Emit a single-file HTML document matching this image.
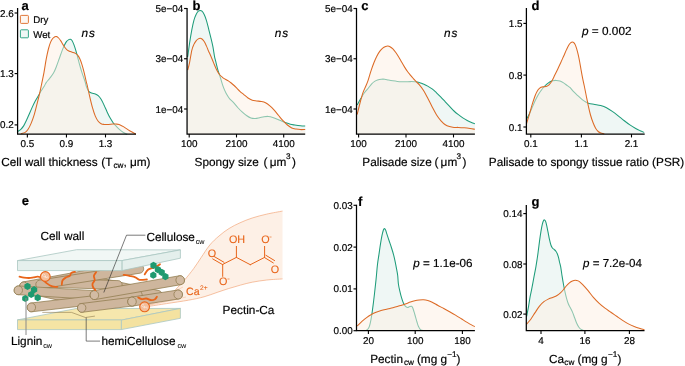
<!DOCTYPE html>
<html><head><meta charset="utf-8"><title>Figure</title>
<style>
html,body{margin:0;padding:0;background:#fff;}
body{width:685px;height:366px;overflow:hidden;}
svg{display:block;}
svg text{text-rendering:geometricPrecision;stroke:#000;stroke-width:0.18px;font-family:"Liberation Sans",Arial,Helvetica,sans-serif;fill:#000;}
</style></head><body>
<svg width="685" height="366" viewBox="0 0 685 366">
<rect width="685" height="366" fill="#fff"/>
<path d="M17.90,131.40C18.38,131.05 19.82,130.27 20.80,129.30C21.78,128.33 22.82,127.18 23.80,125.60C24.78,124.02 25.73,121.87 26.70,119.80C27.67,117.73 28.63,115.40 29.60,113.20C30.57,111.00 31.53,108.67 32.50,106.60C33.47,104.53 34.42,102.62 35.40,100.80C36.38,98.98 37.42,97.40 38.40,95.70C39.38,94.00 40.33,92.18 41.30,90.60C42.27,89.02 43.38,87.53 44.20,86.20C45.02,84.87 45.27,83.93 46.20,82.60C47.13,81.27 48.58,79.78 49.80,78.20C51.02,76.62 52.40,75.05 53.50,73.10C54.60,71.15 55.43,68.93 56.40,66.50C57.37,64.07 58.33,61.18 59.30,58.50C60.27,55.82 61.35,52.60 62.20,50.40C63.05,48.20 63.67,46.80 64.40,45.30C65.13,43.80 65.87,42.35 66.60,41.40C67.33,40.45 68.18,39.95 68.80,39.60C69.42,39.25 69.77,39.15 70.30,39.30C70.83,39.45 71.40,39.62 72.00,40.50C72.60,41.38 73.27,42.95 73.90,44.60C74.53,46.25 75.18,48.33 75.80,50.40C76.42,52.47 76.95,54.57 77.60,57.00C78.25,59.43 78.98,62.45 79.70,65.00C80.42,67.55 81.03,69.62 81.90,72.30C82.77,74.98 84.13,78.67 84.90,81.10C85.67,83.53 85.87,85.20 86.50,86.90C87.13,88.60 87.85,90.27 88.70,91.30C89.55,92.33 90.50,92.67 91.60,93.10C92.70,93.53 94.20,93.47 95.30,93.90C96.40,94.33 97.23,94.80 98.20,95.70C99.17,96.60 100.12,97.72 101.10,99.30C102.08,100.88 103.12,103.13 104.10,105.20C105.08,107.27 106.03,109.63 107.00,111.70C107.97,113.77 108.93,115.85 109.90,117.60C110.87,119.35 111.95,120.98 112.80,122.20C113.65,123.42 113.95,123.73 115.00,124.90C116.05,126.07 117.63,127.90 119.10,129.20C120.57,130.50 122.43,131.88 123.80,132.70C125.17,133.52 126.72,133.87 127.30,134.10L127.30,134.05 L17.90,134.05 Z" fill="rgba(224,240,235,0.5)" stroke="none"/><path d="M17.90,131.40C18.38,131.05 19.82,130.27 20.80,129.30C21.78,128.33 22.82,127.18 23.80,125.60C24.78,124.02 25.73,121.87 26.70,119.80C27.67,117.73 28.63,115.40 29.60,113.20C30.57,111.00 31.53,108.67 32.50,106.60C33.47,104.53 34.42,102.62 35.40,100.80C36.38,98.98 37.42,97.40 38.40,95.70C39.38,94.00 40.33,92.18 41.30,90.60C42.27,89.02 43.38,87.53 44.20,86.20C45.02,84.87 45.27,83.93 46.20,82.60C47.13,81.27 48.58,79.78 49.80,78.20C51.02,76.62 52.40,75.05 53.50,73.10C54.60,71.15 55.43,68.93 56.40,66.50C57.37,64.07 58.33,61.18 59.30,58.50C60.27,55.82 61.35,52.60 62.20,50.40C63.05,48.20 63.67,46.80 64.40,45.30C65.13,43.80 65.87,42.35 66.60,41.40C67.33,40.45 68.18,39.95 68.80,39.60C69.42,39.25 69.77,39.15 70.30,39.30C70.83,39.45 71.40,39.62 72.00,40.50C72.60,41.38 73.27,42.95 73.90,44.60C74.53,46.25 75.18,48.33 75.80,50.40C76.42,52.47 76.95,54.57 77.60,57.00C78.25,59.43 78.98,62.45 79.70,65.00C80.42,67.55 81.03,69.62 81.90,72.30C82.77,74.98 84.13,78.67 84.90,81.10C85.67,83.53 85.87,85.20 86.50,86.90C87.13,88.60 87.85,90.27 88.70,91.30C89.55,92.33 90.50,92.67 91.60,93.10C92.70,93.53 94.20,93.47 95.30,93.90C96.40,94.33 97.23,94.80 98.20,95.70C99.17,96.60 100.12,97.72 101.10,99.30C102.08,100.88 103.12,103.13 104.10,105.20C105.08,107.27 106.03,109.63 107.00,111.70C107.97,113.77 108.93,115.85 109.90,117.60C110.87,119.35 111.95,120.98 112.80,122.20C113.65,123.42 113.95,123.73 115.00,124.90C116.05,126.07 117.63,127.90 119.10,129.20C120.57,130.50 122.43,131.88 123.80,132.70C125.17,133.52 126.72,133.87 127.30,134.10" fill="none" stroke="#1E9C7A" stroke-width="1.05" stroke-linejoin="round"/>
<path d="M20.80,133.80C21.53,133.57 23.98,133.15 25.20,132.40C26.42,131.65 27.12,130.80 28.10,129.30C29.08,127.80 30.12,125.72 31.10,123.40C32.08,121.08 33.03,118.57 34.00,115.40C34.97,112.23 36.05,107.68 36.90,104.40C37.75,101.12 38.37,98.85 39.10,95.70C39.83,92.55 40.48,89.40 41.30,85.50C42.12,81.60 43.18,76.68 44.00,72.30C44.82,67.92 45.47,63.08 46.20,59.20C46.93,55.32 47.68,51.80 48.40,49.00C49.12,46.20 49.78,44.15 50.50,42.40C51.22,40.65 51.97,39.45 52.70,38.50C53.43,37.55 54.28,37.03 54.90,36.70C55.52,36.37 55.78,36.28 56.40,36.50C57.02,36.72 57.87,37.27 58.60,38.00C59.33,38.73 60.07,39.80 60.80,40.90C61.53,42.00 62.28,43.45 63.00,44.60C63.72,45.75 64.38,46.88 65.10,47.80C65.82,48.72 66.43,49.47 67.30,50.10C68.17,50.73 69.32,51.18 70.30,51.60C71.28,52.02 72.35,52.30 73.20,52.60C74.05,52.90 74.67,52.98 75.40,53.40C76.13,53.82 76.88,54.25 77.60,55.10C78.32,55.95 78.98,56.97 79.70,58.50C80.42,60.03 81.17,62.00 81.90,64.30C82.63,66.60 83.37,69.38 84.10,72.30C84.83,75.22 85.77,79.60 86.30,81.80C86.83,84.00 86.77,83.18 87.30,85.50C87.83,87.82 88.65,92.05 89.50,95.70C90.35,99.35 91.43,104.00 92.40,107.40C93.37,110.80 94.33,113.80 95.30,116.10C96.27,118.40 97.23,119.93 98.20,121.20C99.17,122.47 100.12,123.17 101.10,123.70C102.08,124.23 102.88,124.28 104.10,124.40C105.32,124.52 106.95,124.45 108.40,124.40C109.85,124.35 111.53,124.15 112.80,124.10C114.07,124.05 114.95,124.03 116.00,124.10C117.05,124.17 117.80,124.03 119.10,124.50C120.40,124.97 122.05,125.85 123.80,126.90C125.55,127.95 127.60,129.62 129.60,130.80C131.60,131.98 134.77,133.47 135.80,134.00L135.80,134.05 L20.80,134.05 Z" fill="rgba(253,239,227,0.5)" stroke="none"/><path d="M20.80,133.80C21.53,133.57 23.98,133.15 25.20,132.40C26.42,131.65 27.12,130.80 28.10,129.30C29.08,127.80 30.12,125.72 31.10,123.40C32.08,121.08 33.03,118.57 34.00,115.40C34.97,112.23 36.05,107.68 36.90,104.40C37.75,101.12 38.37,98.85 39.10,95.70C39.83,92.55 40.48,89.40 41.30,85.50C42.12,81.60 43.18,76.68 44.00,72.30C44.82,67.92 45.47,63.08 46.20,59.20C46.93,55.32 47.68,51.80 48.40,49.00C49.12,46.20 49.78,44.15 50.50,42.40C51.22,40.65 51.97,39.45 52.70,38.50C53.43,37.55 54.28,37.03 54.90,36.70C55.52,36.37 55.78,36.28 56.40,36.50C57.02,36.72 57.87,37.27 58.60,38.00C59.33,38.73 60.07,39.80 60.80,40.90C61.53,42.00 62.28,43.45 63.00,44.60C63.72,45.75 64.38,46.88 65.10,47.80C65.82,48.72 66.43,49.47 67.30,50.10C68.17,50.73 69.32,51.18 70.30,51.60C71.28,52.02 72.35,52.30 73.20,52.60C74.05,52.90 74.67,52.98 75.40,53.40C76.13,53.82 76.88,54.25 77.60,55.10C78.32,55.95 78.98,56.97 79.70,58.50C80.42,60.03 81.17,62.00 81.90,64.30C82.63,66.60 83.37,69.38 84.10,72.30C84.83,75.22 85.77,79.60 86.30,81.80C86.83,84.00 86.77,83.18 87.30,85.50C87.83,87.82 88.65,92.05 89.50,95.70C90.35,99.35 91.43,104.00 92.40,107.40C93.37,110.80 94.33,113.80 95.30,116.10C96.27,118.40 97.23,119.93 98.20,121.20C99.17,122.47 100.12,123.17 101.10,123.70C102.08,124.23 102.88,124.28 104.10,124.40C105.32,124.52 106.95,124.45 108.40,124.40C109.85,124.35 111.53,124.15 112.80,124.10C114.07,124.05 114.95,124.03 116.00,124.10C117.05,124.17 117.80,124.03 119.10,124.50C120.40,124.97 122.05,125.85 123.80,126.90C125.55,127.95 127.60,129.62 129.60,130.80C131.60,131.98 134.77,133.47 135.80,134.00" fill="none" stroke="#DC6A25" stroke-width="1.05" stroke-linejoin="round"/>
<path d="M17.60,8.00 V134.05 H136.00" fill="none" stroke="#000" stroke-width="1.25" stroke-linejoin="miter"/><path d="M27.35,134.05 v3.4" stroke="#000" stroke-width="1.1" fill="none"/><text x="27.35" y="146.70" text-anchor="middle" font-size="9.9">0.5</text><path d="M66.45,134.05 v3.4" stroke="#000" stroke-width="1.1" fill="none"/><text x="66.45" y="146.70" text-anchor="middle" font-size="9.9">0.9</text><path d="M105.50,134.05 v3.4" stroke="#000" stroke-width="1.1" fill="none"/><text x="105.50" y="146.70" text-anchor="middle" font-size="9.9">1.3</text><path d="M17.60,13.00 h-3.0" stroke="#000" stroke-width="1.15" fill="none"/><text x="13.80" y="16.55" text-anchor="end" font-size="9.9">2.6</text><path d="M17.60,73.60 h-3.0" stroke="#000" stroke-width="1.15" fill="none"/><text x="13.80" y="77.15" text-anchor="end" font-size="9.9">1.3</text><path d="M17.60,124.90 h-3.0" stroke="#000" stroke-width="1.15" fill="none"/><text x="13.80" y="128.45" text-anchor="end" font-size="9.9">0.2</text>
<text x="21.6" y="9.5" font-size="13" font-weight="bold">a</text>
<rect x="20.4" y="15.4" width="8" height="8" rx="0.8" fill="rgba(253,239,227,0.5)" stroke="#DC6A25" stroke-width="0.9"/>
<rect x="20.4" y="29.8" width="8" height="8" rx="0.8" fill="rgba(224,240,235,0.5)" stroke="#1E9C7A" stroke-width="0.9"/>
<text x="33.2" y="22.6" font-size="9.7">Dry</text>
<text x="33.2" y="37.5" font-size="9.7">Wet</text>
<text x="81.5" y="36.8" font-size="11.8" font-style="italic" letter-spacing="1">ns</text>
<text x="1.20" y="165.90" font-size="11.8">Cell wall thickness</text><text x="101.30" y="165.90" font-size="11.8">(T</text><text x="113.50" y="167.90" font-size="8.2">cw</text><text x="123.40" y="165.90" font-size="11.8">, μm)</text>
<path d="M187.50,57.00C187.58,56.60 187.65,56.93 188.00,54.60C188.35,52.27 188.97,47.13 189.60,43.00C190.23,38.87 191.08,33.58 191.80,29.80C192.52,26.02 193.18,22.85 193.90,20.30C194.62,17.75 195.37,16.03 196.10,14.50C196.83,12.97 197.62,11.78 198.30,11.10C198.98,10.42 199.58,10.40 200.20,10.40C200.82,10.40 201.33,10.42 202.00,11.10C202.67,11.78 203.47,12.97 204.20,14.50C204.93,16.03 205.68,17.98 206.40,20.30C207.12,22.62 207.78,25.60 208.50,28.40C209.22,31.20 209.97,34.07 210.70,37.10C211.43,40.13 212.28,43.48 212.90,46.60C213.52,49.72 213.92,53.28 214.40,55.80C214.88,58.32 215.20,59.27 215.80,61.70C216.40,64.13 217.27,67.85 218.00,70.40C218.73,72.95 219.47,74.68 220.20,77.00C220.93,79.32 221.67,82.12 222.40,84.30C223.13,86.48 223.87,88.40 224.60,90.10C225.33,91.80 225.95,93.03 226.80,94.50C227.65,95.97 228.60,97.58 229.70,98.90C230.80,100.22 232.07,100.97 233.40,102.40C234.73,103.83 236.25,105.92 237.70,107.50C239.15,109.08 240.63,110.57 242.10,111.90C243.57,113.23 245.03,114.48 246.50,115.50C247.97,116.52 249.43,117.50 250.90,118.00C252.37,118.50 253.85,118.55 255.30,118.50C256.75,118.45 258.15,118.00 259.60,117.70C261.05,117.40 262.53,116.92 264.00,116.70C265.47,116.48 266.93,116.28 268.40,116.40C269.87,116.52 271.33,116.93 272.80,117.40C274.27,117.87 275.75,118.58 277.20,119.20C278.65,119.82 280.05,120.50 281.50,121.10C282.95,121.70 284.43,122.28 285.90,122.80C287.37,123.32 288.83,123.83 290.30,124.20C291.77,124.57 293.00,124.73 294.70,125.00C296.40,125.27 298.75,125.62 300.50,125.80C302.25,125.98 304.42,126.05 305.20,126.10L305.20,134.05 L187.50,134.05 Z" fill="rgba(224,240,235,0.5)" stroke="none"/><path d="M187.50,57.00C187.58,56.60 187.65,56.93 188.00,54.60C188.35,52.27 188.97,47.13 189.60,43.00C190.23,38.87 191.08,33.58 191.80,29.80C192.52,26.02 193.18,22.85 193.90,20.30C194.62,17.75 195.37,16.03 196.10,14.50C196.83,12.97 197.62,11.78 198.30,11.10C198.98,10.42 199.58,10.40 200.20,10.40C200.82,10.40 201.33,10.42 202.00,11.10C202.67,11.78 203.47,12.97 204.20,14.50C204.93,16.03 205.68,17.98 206.40,20.30C207.12,22.62 207.78,25.60 208.50,28.40C209.22,31.20 209.97,34.07 210.70,37.10C211.43,40.13 212.28,43.48 212.90,46.60C213.52,49.72 213.92,53.28 214.40,55.80C214.88,58.32 215.20,59.27 215.80,61.70C216.40,64.13 217.27,67.85 218.00,70.40C218.73,72.95 219.47,74.68 220.20,77.00C220.93,79.32 221.67,82.12 222.40,84.30C223.13,86.48 223.87,88.40 224.60,90.10C225.33,91.80 225.95,93.03 226.80,94.50C227.65,95.97 228.60,97.58 229.70,98.90C230.80,100.22 232.07,100.97 233.40,102.40C234.73,103.83 236.25,105.92 237.70,107.50C239.15,109.08 240.63,110.57 242.10,111.90C243.57,113.23 245.03,114.48 246.50,115.50C247.97,116.52 249.43,117.50 250.90,118.00C252.37,118.50 253.85,118.55 255.30,118.50C256.75,118.45 258.15,118.00 259.60,117.70C261.05,117.40 262.53,116.92 264.00,116.70C265.47,116.48 266.93,116.28 268.40,116.40C269.87,116.52 271.33,116.93 272.80,117.40C274.27,117.87 275.75,118.58 277.20,119.20C278.65,119.82 280.05,120.50 281.50,121.10C282.95,121.70 284.43,122.28 285.90,122.80C287.37,123.32 288.83,123.83 290.30,124.20C291.77,124.57 293.00,124.73 294.70,125.00C296.40,125.27 298.75,125.62 300.50,125.80C302.25,125.98 304.42,126.05 305.20,126.10" fill="none" stroke="#1E9C7A" stroke-width="1.05" stroke-linejoin="round"/>
<path d="M187.50,70.00C187.58,69.83 187.65,70.27 188.00,69.00C188.35,67.73 188.97,65.52 189.60,62.40C190.23,59.28 191.08,53.30 191.80,50.30C192.52,47.30 193.18,45.98 193.90,44.40C194.62,42.82 195.37,41.72 196.10,40.80C196.83,39.88 197.63,39.32 198.30,38.90C198.97,38.48 199.48,38.28 200.10,38.30C200.72,38.32 201.32,38.47 202.00,39.00C202.68,39.53 203.47,40.35 204.20,41.50C204.93,42.65 205.68,44.32 206.40,45.90C207.12,47.48 207.78,49.35 208.50,51.00C209.22,52.65 209.83,53.78 210.70,55.80C211.57,57.82 212.72,60.78 213.70,63.10C214.68,65.42 215.63,67.80 216.60,69.70C217.57,71.60 218.53,73.23 219.50,74.50C220.47,75.77 221.43,76.52 222.40,77.30C223.37,78.08 224.32,78.60 225.30,79.20C226.28,79.80 227.32,80.27 228.30,80.90C229.28,81.53 230.23,82.23 231.20,83.00C232.17,83.77 233.13,84.60 234.10,85.50C235.07,86.40 236.03,87.43 237.00,88.40C237.97,89.37 238.80,90.30 239.90,91.30C241.00,92.30 242.25,93.28 243.60,94.40C244.95,95.52 246.55,97.03 248.00,98.00C249.45,98.97 250.85,99.72 252.30,100.20C253.75,100.68 255.23,100.68 256.70,100.90C258.17,101.12 259.63,101.18 261.10,101.50C262.57,101.82 264.03,102.08 265.50,102.80C266.97,103.52 268.45,104.58 269.90,105.80C271.35,107.02 272.75,108.48 274.20,110.10C275.65,111.72 277.13,113.73 278.60,115.50C280.07,117.27 281.53,119.12 283.00,120.70C284.47,122.28 285.93,123.78 287.40,125.00C288.87,126.22 290.35,127.32 291.80,128.00C293.25,128.68 294.65,128.83 296.10,129.10C297.55,129.37 298.98,129.55 300.50,129.60C302.02,129.65 304.42,129.43 305.20,129.40L305.20,134.05 L187.50,134.05 Z" fill="rgba(253,239,227,0.5)" stroke="none"/><path d="M187.50,70.00C187.58,69.83 187.65,70.27 188.00,69.00C188.35,67.73 188.97,65.52 189.60,62.40C190.23,59.28 191.08,53.30 191.80,50.30C192.52,47.30 193.18,45.98 193.90,44.40C194.62,42.82 195.37,41.72 196.10,40.80C196.83,39.88 197.63,39.32 198.30,38.90C198.97,38.48 199.48,38.28 200.10,38.30C200.72,38.32 201.32,38.47 202.00,39.00C202.68,39.53 203.47,40.35 204.20,41.50C204.93,42.65 205.68,44.32 206.40,45.90C207.12,47.48 207.78,49.35 208.50,51.00C209.22,52.65 209.83,53.78 210.70,55.80C211.57,57.82 212.72,60.78 213.70,63.10C214.68,65.42 215.63,67.80 216.60,69.70C217.57,71.60 218.53,73.23 219.50,74.50C220.47,75.77 221.43,76.52 222.40,77.30C223.37,78.08 224.32,78.60 225.30,79.20C226.28,79.80 227.32,80.27 228.30,80.90C229.28,81.53 230.23,82.23 231.20,83.00C232.17,83.77 233.13,84.60 234.10,85.50C235.07,86.40 236.03,87.43 237.00,88.40C237.97,89.37 238.80,90.30 239.90,91.30C241.00,92.30 242.25,93.28 243.60,94.40C244.95,95.52 246.55,97.03 248.00,98.00C249.45,98.97 250.85,99.72 252.30,100.20C253.75,100.68 255.23,100.68 256.70,100.90C258.17,101.12 259.63,101.18 261.10,101.50C262.57,101.82 264.03,102.08 265.50,102.80C266.97,103.52 268.45,104.58 269.90,105.80C271.35,107.02 272.75,108.48 274.20,110.10C275.65,111.72 277.13,113.73 278.60,115.50C280.07,117.27 281.53,119.12 283.00,120.70C284.47,122.28 285.93,123.78 287.40,125.00C288.87,126.22 290.35,127.32 291.80,128.00C293.25,128.68 294.65,128.83 296.10,129.10C297.55,129.37 298.98,129.55 300.50,129.60C302.02,129.65 304.42,129.43 305.20,129.40" fill="none" stroke="#DC6A25" stroke-width="1.05" stroke-linejoin="round"/>
<path d="M187.06,7.90 V134.05 H305.20" fill="none" stroke="#000" stroke-width="1.25" stroke-linejoin="miter"/><path d="M189.20,134.05 v3.4" stroke="#000" stroke-width="1.1" fill="none"/><text x="189.20" y="146.70" text-anchor="middle" font-size="9.9">100</text><path d="M236.50,134.05 v3.4" stroke="#000" stroke-width="1.1" fill="none"/><text x="236.50" y="146.70" text-anchor="middle" font-size="9.9">2100</text><path d="M283.70,134.05 v3.4" stroke="#000" stroke-width="1.1" fill="none"/><text x="283.70" y="146.70" text-anchor="middle" font-size="9.9">4100</text><path d="M187.06,8.50 h-3.0" stroke="#000" stroke-width="1.15" fill="none"/><text x="183.26" y="12.05" text-anchor="end" font-size="9.9">5e−04</text><path d="M187.06,58.75 h-3.0" stroke="#000" stroke-width="1.15" fill="none"/><text x="183.26" y="62.30" text-anchor="end" font-size="9.9">3e−04</text><path d="M187.06,109.00 h-3.0" stroke="#000" stroke-width="1.15" fill="none"/><text x="183.26" y="112.55" text-anchor="end" font-size="9.9">1e−04</text>
<text x="192.4" y="9.5" font-size="13" font-weight="bold">b</text>
<text x="274.7" y="36.8" font-size="11.8" font-style="italic" letter-spacing="1">ns</text>
<text x="194.60" y="165.90" font-size="11.8">Spongy size</text><text x="263.40" y="165.90" font-size="11.8">(</text><text x="269.80" y="165.90" font-size="11.8">μm</text><text x="286.00" y="158.80" font-size="8.2">3</text><text x="292.00" y="165.90" font-size="11.8">)</text>
<path d="M357.20,105.00C357.25,104.90 356.90,105.47 357.50,104.40C358.10,103.33 359.65,100.53 360.80,98.60C361.95,96.67 363.13,94.57 364.40,92.80C365.67,91.03 367.18,89.48 368.40,88.00C369.62,86.52 370.67,85.00 371.70,83.90C372.73,82.80 373.63,82.05 374.60,81.40C375.57,80.75 376.40,80.37 377.50,80.00C378.60,79.63 379.98,79.33 381.20,79.20C382.42,79.07 383.58,79.07 384.80,79.20C386.02,79.33 387.15,79.73 388.50,80.00C389.85,80.27 391.43,80.57 392.90,80.80C394.37,81.03 395.85,81.25 397.30,81.40C398.75,81.55 400.15,81.65 401.60,81.70C403.05,81.75 404.53,81.72 406.00,81.70C407.47,81.68 408.93,81.60 410.40,81.60C411.87,81.60 413.33,81.57 414.80,81.70C416.27,81.83 417.83,82.03 419.20,82.40C420.57,82.77 421.58,83.28 423.00,83.90C424.42,84.52 426.18,85.27 427.70,86.10C429.22,86.93 430.63,87.78 432.10,88.90C433.57,90.02 435.03,91.43 436.50,92.80C437.97,94.17 439.43,95.60 440.90,97.10C442.37,98.60 443.85,100.27 445.30,101.80C446.75,103.33 448.15,104.77 449.60,106.30C451.05,107.83 452.53,109.60 454.00,111.00C455.47,112.40 456.93,113.55 458.40,114.70C459.87,115.85 461.33,116.93 462.80,117.90C464.27,118.87 465.75,119.73 467.20,120.50C468.65,121.27 470.22,121.97 471.50,122.50C472.78,123.03 474.33,123.50 474.90,123.70L474.90,134.05 L357.20,134.05 Z" fill="rgba(224,240,235,0.5)" stroke="none"/><path d="M357.20,105.00C357.25,104.90 356.90,105.47 357.50,104.40C358.10,103.33 359.65,100.53 360.80,98.60C361.95,96.67 363.13,94.57 364.40,92.80C365.67,91.03 367.18,89.48 368.40,88.00C369.62,86.52 370.67,85.00 371.70,83.90C372.73,82.80 373.63,82.05 374.60,81.40C375.57,80.75 376.40,80.37 377.50,80.00C378.60,79.63 379.98,79.33 381.20,79.20C382.42,79.07 383.58,79.07 384.80,79.20C386.02,79.33 387.15,79.73 388.50,80.00C389.85,80.27 391.43,80.57 392.90,80.80C394.37,81.03 395.85,81.25 397.30,81.40C398.75,81.55 400.15,81.65 401.60,81.70C403.05,81.75 404.53,81.72 406.00,81.70C407.47,81.68 408.93,81.60 410.40,81.60C411.87,81.60 413.33,81.57 414.80,81.70C416.27,81.83 417.83,82.03 419.20,82.40C420.57,82.77 421.58,83.28 423.00,83.90C424.42,84.52 426.18,85.27 427.70,86.10C429.22,86.93 430.63,87.78 432.10,88.90C433.57,90.02 435.03,91.43 436.50,92.80C437.97,94.17 439.43,95.60 440.90,97.10C442.37,98.60 443.85,100.27 445.30,101.80C446.75,103.33 448.15,104.77 449.60,106.30C451.05,107.83 452.53,109.60 454.00,111.00C455.47,112.40 456.93,113.55 458.40,114.70C459.87,115.85 461.33,116.93 462.80,117.90C464.27,118.87 465.75,119.73 467.20,120.50C468.65,121.27 470.22,121.97 471.50,122.50C472.78,123.03 474.33,123.50 474.90,123.70" fill="none" stroke="#1E9C7A" stroke-width="1.05" stroke-linejoin="round"/>
<path d="M357.20,114.50C357.25,114.28 357.03,115.12 357.50,113.20C357.97,111.28 359.10,106.40 360.00,103.00C360.90,99.60 361.98,95.50 362.90,92.80C363.82,90.10 364.63,88.88 365.50,86.80C366.37,84.72 367.18,82.97 368.10,80.30C369.02,77.63 370.03,73.73 371.00,70.80C371.97,67.87 372.93,65.13 373.90,62.70C374.87,60.27 375.83,58.08 376.80,56.20C377.77,54.32 378.72,52.75 379.70,51.40C380.68,50.05 381.72,48.92 382.70,48.10C383.68,47.28 384.75,46.83 385.60,46.50C386.45,46.17 387.07,46.07 387.80,46.10C388.53,46.13 389.15,46.23 390.00,46.70C390.85,47.17 391.93,47.93 392.90,48.90C393.87,49.87 394.83,51.17 395.80,52.50C396.77,53.83 397.73,55.32 398.70,56.90C399.67,58.48 400.62,60.30 401.60,62.00C402.58,63.70 403.62,65.52 404.60,67.10C405.58,68.68 406.53,70.17 407.50,71.50C408.47,72.83 409.43,73.93 410.40,75.10C411.37,76.27 412.33,77.40 413.30,78.50C414.27,79.60 415.22,80.68 416.20,81.70C417.18,82.72 418.00,83.18 419.20,84.60C420.40,86.02 421.97,87.93 423.40,90.20C424.83,92.47 426.33,95.40 427.80,98.20C429.27,101.00 430.73,104.20 432.20,107.00C433.67,109.80 435.13,112.70 436.60,115.00C438.07,117.30 439.55,119.18 441.00,120.80C442.45,122.42 443.90,123.75 445.30,124.70C446.70,125.65 447.95,126.05 449.40,126.50C450.85,126.95 452.50,127.25 454.00,127.40C455.50,127.55 456.70,127.33 458.40,127.40C460.10,127.47 462.25,127.62 464.20,127.80C466.15,127.98 468.32,128.25 470.10,128.50C471.88,128.75 474.10,129.17 474.90,129.30L474.90,134.05 L357.20,134.05 Z" fill="rgba(253,239,227,0.5)" stroke="none"/><path d="M357.20,114.50C357.25,114.28 357.03,115.12 357.50,113.20C357.97,111.28 359.10,106.40 360.00,103.00C360.90,99.60 361.98,95.50 362.90,92.80C363.82,90.10 364.63,88.88 365.50,86.80C366.37,84.72 367.18,82.97 368.10,80.30C369.02,77.63 370.03,73.73 371.00,70.80C371.97,67.87 372.93,65.13 373.90,62.70C374.87,60.27 375.83,58.08 376.80,56.20C377.77,54.32 378.72,52.75 379.70,51.40C380.68,50.05 381.72,48.92 382.70,48.10C383.68,47.28 384.75,46.83 385.60,46.50C386.45,46.17 387.07,46.07 387.80,46.10C388.53,46.13 389.15,46.23 390.00,46.70C390.85,47.17 391.93,47.93 392.90,48.90C393.87,49.87 394.83,51.17 395.80,52.50C396.77,53.83 397.73,55.32 398.70,56.90C399.67,58.48 400.62,60.30 401.60,62.00C402.58,63.70 403.62,65.52 404.60,67.10C405.58,68.68 406.53,70.17 407.50,71.50C408.47,72.83 409.43,73.93 410.40,75.10C411.37,76.27 412.33,77.40 413.30,78.50C414.27,79.60 415.22,80.68 416.20,81.70C417.18,82.72 418.00,83.18 419.20,84.60C420.40,86.02 421.97,87.93 423.40,90.20C424.83,92.47 426.33,95.40 427.80,98.20C429.27,101.00 430.73,104.20 432.20,107.00C433.67,109.80 435.13,112.70 436.60,115.00C438.07,117.30 439.55,119.18 441.00,120.80C442.45,122.42 443.90,123.75 445.30,124.70C446.70,125.65 447.95,126.05 449.40,126.50C450.85,126.95 452.50,127.25 454.00,127.40C455.50,127.55 456.70,127.33 458.40,127.40C460.10,127.47 462.25,127.62 464.20,127.80C466.15,127.98 468.32,128.25 470.10,128.50C471.88,128.75 474.10,129.17 474.90,129.30" fill="none" stroke="#DC6A25" stroke-width="1.05" stroke-linejoin="round"/>
<path d="M356.50,7.90 V134.05 H474.90" fill="none" stroke="#000" stroke-width="1.25" stroke-linejoin="miter"/><path d="M358.60,134.05 v3.4" stroke="#000" stroke-width="1.1" fill="none"/><text x="358.60" y="146.70" text-anchor="middle" font-size="9.9">100</text><path d="M406.00,134.05 v3.4" stroke="#000" stroke-width="1.1" fill="none"/><text x="406.00" y="146.70" text-anchor="middle" font-size="9.9">2100</text><path d="M453.50,134.05 v3.4" stroke="#000" stroke-width="1.1" fill="none"/><text x="453.50" y="146.70" text-anchor="middle" font-size="9.9">4100</text><path d="M356.50,8.50 h-3.0" stroke="#000" stroke-width="1.15" fill="none"/><text x="352.70" y="12.05" text-anchor="end" font-size="9.9">5e−04</text><path d="M356.50,58.75 h-3.0" stroke="#000" stroke-width="1.15" fill="none"/><text x="352.70" y="62.30" text-anchor="end" font-size="9.9">3e−04</text><path d="M356.50,109.00 h-3.0" stroke="#000" stroke-width="1.15" fill="none"/><text x="352.70" y="112.55" text-anchor="end" font-size="9.9">1e−04</text>
<text x="361.2" y="9.6" font-size="13" font-weight="bold">c</text>
<text x="444" y="36.8" font-size="11.8" font-style="italic" letter-spacing="1">ns</text>
<text x="362.30" y="165.90" font-size="11.8">Palisade size</text><text x="434.40" y="165.90" font-size="11.8">(</text><text x="440.60" y="165.90" font-size="11.8">μm</text><text x="456.40" y="158.80" font-size="8.2">3</text><text x="462.40" y="165.90" font-size="11.8">)</text>
<path d="M526.60,119.20C526.62,119.17 526.25,119.88 526.70,119.00C527.15,118.12 528.38,115.83 529.30,113.90C530.22,111.97 531.23,109.58 532.20,107.40C533.17,105.22 534.12,102.88 535.10,100.80C536.08,98.72 537.12,96.60 538.10,94.90C539.08,93.20 540.03,91.92 541.00,90.60C541.97,89.28 542.93,88.07 543.90,87.00C544.87,85.93 545.83,85.03 546.80,84.20C547.77,83.37 548.72,82.57 549.70,82.00C550.68,81.43 551.60,81.07 552.70,80.80C553.80,80.53 555.08,80.35 556.30,80.40C557.52,80.45 558.78,80.68 560.00,81.10C561.22,81.52 562.38,82.15 563.60,82.90C564.82,83.65 566.20,84.80 567.30,85.60C568.40,86.40 569.23,86.78 570.20,87.70C571.17,88.62 571.90,89.83 573.10,91.10C574.30,92.37 575.93,93.93 577.40,95.30C578.87,96.67 580.43,98.15 581.90,99.30C583.37,100.45 585.02,101.52 586.20,102.20C587.38,102.88 587.57,103.03 589.00,103.40C590.43,103.77 592.85,104.03 594.80,104.40C596.75,104.77 598.75,105.03 600.70,105.60C602.65,106.17 604.57,106.83 606.50,107.80C608.43,108.77 610.35,110.07 612.30,111.40C614.25,112.73 616.25,114.28 618.20,115.80C620.15,117.32 622.05,118.98 624.00,120.50C625.95,122.02 627.95,123.57 629.90,124.90C631.85,126.23 634.00,127.53 635.70,128.50C637.40,129.47 638.68,130.05 640.10,130.70C641.52,131.35 643.52,132.12 644.20,132.40L644.20,134.05 L526.60,134.05 Z" fill="rgba(224,240,235,0.5)" stroke="none"/><path d="M526.60,119.20C526.62,119.17 526.25,119.88 526.70,119.00C527.15,118.12 528.38,115.83 529.30,113.90C530.22,111.97 531.23,109.58 532.20,107.40C533.17,105.22 534.12,102.88 535.10,100.80C536.08,98.72 537.12,96.60 538.10,94.90C539.08,93.20 540.03,91.92 541.00,90.60C541.97,89.28 542.93,88.07 543.90,87.00C544.87,85.93 545.83,85.03 546.80,84.20C547.77,83.37 548.72,82.57 549.70,82.00C550.68,81.43 551.60,81.07 552.70,80.80C553.80,80.53 555.08,80.35 556.30,80.40C557.52,80.45 558.78,80.68 560.00,81.10C561.22,81.52 562.38,82.15 563.60,82.90C564.82,83.65 566.20,84.80 567.30,85.60C568.40,86.40 569.23,86.78 570.20,87.70C571.17,88.62 571.90,89.83 573.10,91.10C574.30,92.37 575.93,93.93 577.40,95.30C578.87,96.67 580.43,98.15 581.90,99.30C583.37,100.45 585.02,101.52 586.20,102.20C587.38,102.88 587.57,103.03 589.00,103.40C590.43,103.77 592.85,104.03 594.80,104.40C596.75,104.77 598.75,105.03 600.70,105.60C602.65,106.17 604.57,106.83 606.50,107.80C608.43,108.77 610.35,110.07 612.30,111.40C614.25,112.73 616.25,114.28 618.20,115.80C620.15,117.32 622.05,118.98 624.00,120.50C625.95,122.02 627.95,123.57 629.90,124.90C631.85,126.23 634.00,127.53 635.70,128.50C637.40,129.47 638.68,130.05 640.10,130.70C641.52,131.35 643.52,132.12 644.20,132.40" fill="none" stroke="#1E9C7A" stroke-width="1.05" stroke-linejoin="round"/>
<path d="M526.60,123.50C526.62,123.43 526.25,124.57 526.70,123.10C527.15,121.63 528.38,117.82 529.30,114.70C530.22,111.58 531.23,107.57 532.20,104.40C533.17,101.23 534.12,98.13 535.10,95.70C536.08,93.27 537.12,91.22 538.10,89.80C539.08,88.38 540.03,87.70 541.00,87.20C541.97,86.70 542.93,86.97 543.90,86.80C544.87,86.63 545.95,86.53 546.80,86.20C547.65,85.87 548.15,85.67 549.00,84.80C549.85,83.93 550.93,82.62 551.90,81.00C552.87,79.38 553.82,77.12 554.80,75.10C555.78,73.08 556.82,70.97 557.80,68.90C558.78,66.83 559.73,64.82 560.70,62.70C561.67,60.58 562.63,58.38 563.60,56.20C564.57,54.02 565.65,51.43 566.50,49.60C567.35,47.77 567.97,46.37 568.70,45.20C569.43,44.03 570.28,43.13 570.90,42.60C571.52,42.07 571.92,42.00 572.40,42.00C572.88,42.00 573.32,42.12 573.80,42.60C574.28,43.08 574.82,43.85 575.30,44.90C575.78,45.95 576.22,47.27 576.70,48.90C577.18,50.53 577.70,52.52 578.20,54.70C578.70,56.88 579.22,59.45 579.70,62.00C580.18,64.55 580.62,67.32 581.10,70.00C581.58,72.68 582.07,75.43 582.60,78.10C583.13,80.77 583.72,83.18 584.30,86.00C584.88,88.82 585.43,91.68 586.10,95.00C586.77,98.32 587.57,102.57 588.30,105.90C589.03,109.23 589.70,112.18 590.50,115.00C591.30,117.82 592.25,120.60 593.10,122.80C593.95,125.00 594.75,126.75 595.60,128.20C596.45,129.65 597.33,130.68 598.20,131.50C599.07,132.32 599.78,132.72 600.80,133.10C601.82,133.48 603.72,133.68 604.30,133.80L604.30,134.05 L526.60,134.05 Z" fill="rgba(253,239,227,0.5)" stroke="none"/><path d="M526.60,123.50C526.62,123.43 526.25,124.57 526.70,123.10C527.15,121.63 528.38,117.82 529.30,114.70C530.22,111.58 531.23,107.57 532.20,104.40C533.17,101.23 534.12,98.13 535.10,95.70C536.08,93.27 537.12,91.22 538.10,89.80C539.08,88.38 540.03,87.70 541.00,87.20C541.97,86.70 542.93,86.97 543.90,86.80C544.87,86.63 545.95,86.53 546.80,86.20C547.65,85.87 548.15,85.67 549.00,84.80C549.85,83.93 550.93,82.62 551.90,81.00C552.87,79.38 553.82,77.12 554.80,75.10C555.78,73.08 556.82,70.97 557.80,68.90C558.78,66.83 559.73,64.82 560.70,62.70C561.67,60.58 562.63,58.38 563.60,56.20C564.57,54.02 565.65,51.43 566.50,49.60C567.35,47.77 567.97,46.37 568.70,45.20C569.43,44.03 570.28,43.13 570.90,42.60C571.52,42.07 571.92,42.00 572.40,42.00C572.88,42.00 573.32,42.12 573.80,42.60C574.28,43.08 574.82,43.85 575.30,44.90C575.78,45.95 576.22,47.27 576.70,48.90C577.18,50.53 577.70,52.52 578.20,54.70C578.70,56.88 579.22,59.45 579.70,62.00C580.18,64.55 580.62,67.32 581.10,70.00C581.58,72.68 582.07,75.43 582.60,78.10C583.13,80.77 583.72,83.18 584.30,86.00C584.88,88.82 585.43,91.68 586.10,95.00C586.77,98.32 587.57,102.57 588.30,105.90C589.03,109.23 589.70,112.18 590.50,115.00C591.30,117.82 592.25,120.60 593.10,122.80C593.95,125.00 594.75,126.75 595.60,128.20C596.45,129.65 597.33,130.68 598.20,131.50C599.07,132.32 599.78,132.72 600.80,133.10C601.82,133.48 603.72,133.68 604.30,133.80" fill="none" stroke="#DC6A25" stroke-width="1.05" stroke-linejoin="round"/>
<path d="M526.40,7.90 V134.05 H644.70" fill="none" stroke="#000" stroke-width="1.25" stroke-linejoin="miter"/><path d="M530.80,134.05 v3.4" stroke="#000" stroke-width="1.1" fill="none"/><text x="530.80" y="146.70" text-anchor="middle" font-size="9.9">0.1</text><path d="M581.40,134.05 v3.4" stroke="#000" stroke-width="1.1" fill="none"/><text x="581.40" y="146.70" text-anchor="middle" font-size="9.9">1.1</text><path d="M631.50,134.05 v3.4" stroke="#000" stroke-width="1.1" fill="none"/><text x="631.50" y="146.70" text-anchor="middle" font-size="9.9">2.1</text><path d="M526.40,23.40 h-3.0" stroke="#000" stroke-width="1.15" fill="none"/><text x="522.60" y="26.95" text-anchor="end" font-size="9.9">1.5</text><path d="M526.40,75.10 h-3.0" stroke="#000" stroke-width="1.15" fill="none"/><text x="522.60" y="78.65" text-anchor="end" font-size="9.9">0.8</text><path d="M526.40,127.00 h-3.0" stroke="#000" stroke-width="1.15" fill="none"/><text x="522.60" y="130.55" text-anchor="end" font-size="9.9">0.1</text>
<text x="531.5" y="9.5" font-size="13" font-weight="bold">d</text>
<text x="582" y="34.7" font-size="11.8"><tspan font-style="italic">p</tspan> = 0.002</text>
<text x="488.8" y="165.9" font-size="11.8">Palisade to spongy tissue ratio (PSR)</text>
<path d="M365.00,330.60C365.27,330.53 365.97,330.67 366.60,330.20C367.23,329.73 368.20,328.93 368.80,327.80C369.40,326.67 369.72,325.47 370.20,323.40C370.68,321.33 371.20,318.57 371.70,315.40C372.20,312.23 372.72,308.17 373.20,304.40C373.68,300.63 374.12,297.03 374.60,292.80C375.08,288.57 375.62,283.75 376.10,279.00C376.58,274.25 377.02,268.45 377.50,264.30C377.98,260.15 378.50,257.50 379.00,254.10C379.50,250.70 380.02,246.93 380.50,243.90C380.98,240.87 381.42,238.22 381.90,235.90C382.38,233.58 382.98,231.22 383.40,230.00C383.82,228.78 384.03,228.60 384.40,228.60C384.77,228.60 385.17,229.03 385.60,230.00C386.03,230.97 386.40,232.57 387.00,234.40C387.60,236.23 388.47,238.82 389.20,241.00C389.93,243.18 390.67,245.20 391.40,247.50C392.13,249.80 392.98,252.48 393.60,254.80C394.22,257.12 394.62,259.08 395.10,261.40C395.58,263.72 396.07,266.35 396.50,268.70C396.93,271.05 397.38,272.95 397.70,275.50C398.02,278.05 398.03,281.37 398.40,284.00C398.77,286.63 399.37,288.98 399.90,291.30C400.43,293.62 401.02,295.95 401.60,297.90C402.18,299.85 402.78,301.62 403.40,303.00C404.02,304.38 404.62,305.47 405.30,306.20C405.98,306.93 406.77,307.33 407.50,307.40C408.23,307.47 409.05,306.78 409.70,306.60C410.35,306.42 410.92,306.13 411.40,306.30C411.88,306.47 412.17,306.70 412.60,307.60C413.03,308.50 413.52,310.17 414.00,311.70C414.48,313.23 415.00,315.08 415.50,316.80C416.00,318.52 416.52,320.42 417.00,322.00C417.48,323.58 417.87,325.08 418.40,326.30C418.93,327.52 419.58,328.63 420.20,329.30C420.82,329.97 421.55,330.08 422.10,330.30C422.65,330.52 423.27,330.55 423.50,330.60L423.50,330.60 L365.00,330.60 Z" fill="rgba(224,240,235,0.5)" stroke="none"/><path d="M365.00,330.60C365.27,330.53 365.97,330.67 366.60,330.20C367.23,329.73 368.20,328.93 368.80,327.80C369.40,326.67 369.72,325.47 370.20,323.40C370.68,321.33 371.20,318.57 371.70,315.40C372.20,312.23 372.72,308.17 373.20,304.40C373.68,300.63 374.12,297.03 374.60,292.80C375.08,288.57 375.62,283.75 376.10,279.00C376.58,274.25 377.02,268.45 377.50,264.30C377.98,260.15 378.50,257.50 379.00,254.10C379.50,250.70 380.02,246.93 380.50,243.90C380.98,240.87 381.42,238.22 381.90,235.90C382.38,233.58 382.98,231.22 383.40,230.00C383.82,228.78 384.03,228.60 384.40,228.60C384.77,228.60 385.17,229.03 385.60,230.00C386.03,230.97 386.40,232.57 387.00,234.40C387.60,236.23 388.47,238.82 389.20,241.00C389.93,243.18 390.67,245.20 391.40,247.50C392.13,249.80 392.98,252.48 393.60,254.80C394.22,257.12 394.62,259.08 395.10,261.40C395.58,263.72 396.07,266.35 396.50,268.70C396.93,271.05 397.38,272.95 397.70,275.50C398.02,278.05 398.03,281.37 398.40,284.00C398.77,286.63 399.37,288.98 399.90,291.30C400.43,293.62 401.02,295.95 401.60,297.90C402.18,299.85 402.78,301.62 403.40,303.00C404.02,304.38 404.62,305.47 405.30,306.20C405.98,306.93 406.77,307.33 407.50,307.40C408.23,307.47 409.05,306.78 409.70,306.60C410.35,306.42 410.92,306.13 411.40,306.30C411.88,306.47 412.17,306.70 412.60,307.60C413.03,308.50 413.52,310.17 414.00,311.70C414.48,313.23 415.00,315.08 415.50,316.80C416.00,318.52 416.52,320.42 417.00,322.00C417.48,323.58 417.87,325.08 418.40,326.30C418.93,327.52 419.58,328.63 420.20,329.30C420.82,329.97 421.55,330.08 422.10,330.30C422.65,330.52 423.27,330.55 423.50,330.60" fill="none" stroke="#1E9C7A" stroke-width="1.05" stroke-linejoin="round"/>
<path d="M357.30,325.80C357.33,325.77 356.68,326.37 357.50,325.60C358.32,324.83 360.68,322.53 362.20,321.20C363.72,319.87 365.13,318.68 366.60,317.60C368.07,316.52 369.53,315.55 371.00,314.70C372.47,313.85 373.95,313.13 375.40,312.50C376.85,311.87 378.25,311.35 379.70,310.90C381.15,310.45 382.63,310.15 384.10,309.80C385.57,309.45 387.03,309.13 388.50,308.80C389.97,308.47 391.43,308.17 392.90,307.80C394.37,307.43 395.85,307.03 397.30,306.60C398.75,306.17 400.15,305.68 401.60,305.20C403.05,304.72 404.53,304.23 406.00,303.70C407.47,303.17 408.93,302.50 410.40,302.00C411.87,301.50 413.35,301.03 414.80,300.70C416.25,300.37 417.65,300.15 419.10,300.00C420.55,299.85 422.05,299.72 423.50,299.80C424.95,299.88 426.35,300.10 427.80,300.50C429.25,300.90 430.50,301.37 432.20,302.20C433.90,303.03 436.07,304.45 438.00,305.50C439.93,306.55 441.87,307.47 443.80,308.50C445.73,309.53 447.65,310.60 449.60,311.70C451.55,312.80 453.55,313.93 455.50,315.10C457.45,316.27 459.35,317.48 461.30,318.70C463.25,319.92 465.50,321.37 467.20,322.40C468.90,323.43 470.22,324.20 471.50,324.90C472.78,325.60 474.33,326.32 474.90,326.60L474.90,330.60 L357.30,330.60 Z" fill="rgba(253,239,227,0.5)" stroke="none"/><path d="M357.30,325.80C357.33,325.77 356.68,326.37 357.50,325.60C358.32,324.83 360.68,322.53 362.20,321.20C363.72,319.87 365.13,318.68 366.60,317.60C368.07,316.52 369.53,315.55 371.00,314.70C372.47,313.85 373.95,313.13 375.40,312.50C376.85,311.87 378.25,311.35 379.70,310.90C381.15,310.45 382.63,310.15 384.10,309.80C385.57,309.45 387.03,309.13 388.50,308.80C389.97,308.47 391.43,308.17 392.90,307.80C394.37,307.43 395.85,307.03 397.30,306.60C398.75,306.17 400.15,305.68 401.60,305.20C403.05,304.72 404.53,304.23 406.00,303.70C407.47,303.17 408.93,302.50 410.40,302.00C411.87,301.50 413.35,301.03 414.80,300.70C416.25,300.37 417.65,300.15 419.10,300.00C420.55,299.85 422.05,299.72 423.50,299.80C424.95,299.88 426.35,300.10 427.80,300.50C429.25,300.90 430.50,301.37 432.20,302.20C433.90,303.03 436.07,304.45 438.00,305.50C439.93,306.55 441.87,307.47 443.80,308.50C445.73,309.53 447.65,310.60 449.60,311.70C451.55,312.80 453.55,313.93 455.50,315.10C457.45,316.27 459.35,317.48 461.30,318.70C463.25,319.92 465.50,321.37 467.20,322.40C468.90,323.43 470.22,324.20 471.50,324.90C472.78,325.60 474.33,326.32 474.90,326.60" fill="none" stroke="#DC6A25" stroke-width="1.05" stroke-linejoin="round"/>
<path d="M356.50,204.70 V330.60 H474.90" fill="none" stroke="#000" stroke-width="1.25" stroke-linejoin="miter"/><path d="M368.40,330.60 v3.4" stroke="#000" stroke-width="1.1" fill="none"/><text x="368.40" y="344.40" text-anchor="middle" font-size="9.9">20</text><path d="M415.20,330.60 v3.4" stroke="#000" stroke-width="1.1" fill="none"/><text x="415.20" y="344.40" text-anchor="middle" font-size="9.9">100</text><path d="M462.40,330.60 v3.4" stroke="#000" stroke-width="1.1" fill="none"/><text x="462.40" y="344.40" text-anchor="middle" font-size="9.9">180</text><path d="M356.50,205.30 h-3.0" stroke="#000" stroke-width="1.15" fill="none"/><text x="352.70" y="208.85" text-anchor="end" font-size="9.9">0.03</text><path d="M356.50,247.10 h-3.0" stroke="#000" stroke-width="1.15" fill="none"/><text x="352.70" y="250.65" text-anchor="end" font-size="9.9">0.02</text><path d="M356.50,288.90 h-3.0" stroke="#000" stroke-width="1.15" fill="none"/><text x="352.70" y="292.45" text-anchor="end" font-size="9.9">0.01</text><path d="M356.50,330.70 h-3.0" stroke="#000" stroke-width="1.15" fill="none"/><text x="352.70" y="334.25" text-anchor="end" font-size="9.9">0.00</text>
<text x="357.9" y="206.0" font-size="13" font-weight="bold">f</text>
<text x="413.3" y="266.6" font-size="11.65"><tspan font-style="italic">p</tspan> = 1.1e-06</text>
<text x="370.20" y="362.60" font-size="11.8">Pectin</text><text x="403.90" y="364.60" font-size="8.2">cw</text><text x="416.90" y="362.60" font-size="11.8">(mg g</text><text x="447.20" y="356.80" font-size="8.2">−1</text><text x="456.40" y="362.60" font-size="11.8">)</text>
<path d="M526.60,316.50C526.68,316.10 526.77,315.83 527.10,314.10C527.43,312.37 528.12,308.90 528.60,306.10C529.08,303.30 529.52,299.97 530.00,297.30C530.48,294.63 530.88,293.25 531.50,290.10C532.12,286.95 532.97,282.28 533.70,278.40C534.43,274.52 535.30,270.20 535.90,266.80C536.50,263.40 536.93,260.42 537.30,258.00C537.67,255.58 537.73,255.07 538.10,252.30C538.47,249.53 539.02,244.92 539.50,241.40C539.98,237.88 540.52,234.12 541.00,231.20C541.48,228.28 541.97,225.68 542.40,223.90C542.83,222.12 543.25,221.17 543.60,220.50C543.95,219.83 544.20,219.83 544.50,219.90C544.80,219.97 545.07,220.12 545.40,220.90C545.73,221.68 546.07,222.77 546.50,224.60C546.93,226.43 547.52,229.47 548.00,231.90C548.48,234.33 548.92,237.02 549.40,239.20C549.88,241.38 550.40,243.53 550.90,245.00C551.40,246.47 551.87,247.27 552.40,248.00C552.93,248.73 553.52,248.87 554.10,249.40C554.68,249.93 555.37,250.47 555.90,251.20C556.43,251.93 556.87,252.77 557.30,253.80C557.73,254.83 558.13,256.03 558.50,257.40C558.87,258.77 559.13,260.43 559.50,262.00C559.87,263.57 560.27,264.43 560.70,266.80C561.13,269.17 561.62,273.17 562.10,276.20C562.58,279.23 563.10,282.32 563.60,285.00C564.10,287.68 564.62,290.12 565.10,292.30C565.58,294.48 565.97,296.18 566.50,298.10C567.03,300.02 567.68,302.23 568.30,303.80C568.92,305.37 569.52,306.15 570.20,307.50C570.88,308.85 571.67,310.20 572.40,311.90C573.13,313.60 573.88,315.80 574.60,317.70C575.32,319.60 575.98,321.72 576.70,323.30C577.42,324.88 578.17,326.18 578.90,327.20C579.63,328.22 580.37,328.88 581.10,329.40C581.83,329.92 582.93,330.15 583.30,330.30L583.30,330.60 L526.60,330.60 Z" fill="rgba(224,240,235,0.5)" stroke="none"/><path d="M526.60,316.50C526.68,316.10 526.77,315.83 527.10,314.10C527.43,312.37 528.12,308.90 528.60,306.10C529.08,303.30 529.52,299.97 530.00,297.30C530.48,294.63 530.88,293.25 531.50,290.10C532.12,286.95 532.97,282.28 533.70,278.40C534.43,274.52 535.30,270.20 535.90,266.80C536.50,263.40 536.93,260.42 537.30,258.00C537.67,255.58 537.73,255.07 538.10,252.30C538.47,249.53 539.02,244.92 539.50,241.40C539.98,237.88 540.52,234.12 541.00,231.20C541.48,228.28 541.97,225.68 542.40,223.90C542.83,222.12 543.25,221.17 543.60,220.50C543.95,219.83 544.20,219.83 544.50,219.90C544.80,219.97 545.07,220.12 545.40,220.90C545.73,221.68 546.07,222.77 546.50,224.60C546.93,226.43 547.52,229.47 548.00,231.90C548.48,234.33 548.92,237.02 549.40,239.20C549.88,241.38 550.40,243.53 550.90,245.00C551.40,246.47 551.87,247.27 552.40,248.00C552.93,248.73 553.52,248.87 554.10,249.40C554.68,249.93 555.37,250.47 555.90,251.20C556.43,251.93 556.87,252.77 557.30,253.80C557.73,254.83 558.13,256.03 558.50,257.40C558.87,258.77 559.13,260.43 559.50,262.00C559.87,263.57 560.27,264.43 560.70,266.80C561.13,269.17 561.62,273.17 562.10,276.20C562.58,279.23 563.10,282.32 563.60,285.00C564.10,287.68 564.62,290.12 565.10,292.30C565.58,294.48 565.97,296.18 566.50,298.10C567.03,300.02 567.68,302.23 568.30,303.80C568.92,305.37 569.52,306.15 570.20,307.50C570.88,308.85 571.67,310.20 572.40,311.90C573.13,313.60 573.88,315.80 574.60,317.70C575.32,319.60 575.98,321.72 576.70,323.30C577.42,324.88 578.17,326.18 578.90,327.20C579.63,328.22 580.37,328.88 581.10,329.40C581.83,329.92 582.93,330.15 583.30,330.30" fill="none" stroke="#1E9C7A" stroke-width="1.05" stroke-linejoin="round"/>
<path d="M526.60,324.20C526.68,324.10 526.40,324.43 527.10,323.60C527.80,322.77 529.47,321.03 530.80,319.20C532.13,317.37 533.65,314.78 535.10,312.60C536.55,310.42 538.03,307.92 539.50,306.10C540.97,304.28 542.43,302.87 543.90,301.70C545.37,300.53 546.83,299.82 548.30,299.10C549.77,298.38 551.25,298.00 552.70,297.40C554.15,296.80 555.67,296.30 557.00,295.50C558.33,294.70 559.60,293.60 560.70,292.60C561.80,291.60 562.75,290.52 563.60,289.50C564.45,288.48 564.83,287.62 565.80,286.50C566.77,285.38 568.30,283.73 569.40,282.80C570.50,281.87 571.42,281.33 572.40,280.90C573.38,280.47 574.33,280.20 575.30,280.20C576.27,280.20 577.23,280.42 578.20,280.90C579.17,281.38 580.00,282.10 581.10,283.10C582.20,284.10 583.57,285.55 584.80,286.90C586.03,288.25 587.07,289.45 588.50,291.20C589.93,292.95 591.62,295.37 593.40,297.40C595.18,299.43 597.27,301.60 599.20,303.40C601.13,305.20 603.05,306.73 605.00,308.20C606.95,309.67 608.95,310.85 610.90,312.20C612.85,313.55 614.75,314.93 616.70,316.30C618.65,317.67 620.65,319.13 622.60,320.40C624.55,321.67 626.47,322.88 628.40,323.90C630.33,324.92 632.25,325.73 634.20,326.50C636.15,327.27 638.38,327.97 640.10,328.50C641.82,329.03 643.77,329.50 644.50,329.70L644.50,330.60 L526.60,330.60 Z" fill="rgba(253,239,227,0.5)" stroke="none"/><path d="M526.60,324.20C526.68,324.10 526.40,324.43 527.10,323.60C527.80,322.77 529.47,321.03 530.80,319.20C532.13,317.37 533.65,314.78 535.10,312.60C536.55,310.42 538.03,307.92 539.50,306.10C540.97,304.28 542.43,302.87 543.90,301.70C545.37,300.53 546.83,299.82 548.30,299.10C549.77,298.38 551.25,298.00 552.70,297.40C554.15,296.80 555.67,296.30 557.00,295.50C558.33,294.70 559.60,293.60 560.70,292.60C561.80,291.60 562.75,290.52 563.60,289.50C564.45,288.48 564.83,287.62 565.80,286.50C566.77,285.38 568.30,283.73 569.40,282.80C570.50,281.87 571.42,281.33 572.40,280.90C573.38,280.47 574.33,280.20 575.30,280.20C576.27,280.20 577.23,280.42 578.20,280.90C579.17,281.38 580.00,282.10 581.10,283.10C582.20,284.10 583.57,285.55 584.80,286.90C586.03,288.25 587.07,289.45 588.50,291.20C589.93,292.95 591.62,295.37 593.40,297.40C595.18,299.43 597.27,301.60 599.20,303.40C601.13,305.20 603.05,306.73 605.00,308.20C606.95,309.67 608.95,310.85 610.90,312.20C612.85,313.55 614.75,314.93 616.70,316.30C618.65,317.67 620.65,319.13 622.60,320.40C624.55,321.67 626.47,322.88 628.40,323.90C630.33,324.92 632.25,325.73 634.20,326.50C636.15,327.27 638.38,327.97 640.10,328.50C641.82,329.03 643.77,329.50 644.50,329.70" fill="none" stroke="#DC6A25" stroke-width="1.05" stroke-linejoin="round"/>
<path d="M526.30,205.00 V330.60 H644.50" fill="none" stroke="#000" stroke-width="1.25" stroke-linejoin="miter"/><path d="M541.00,330.60 v3.4" stroke="#000" stroke-width="1.1" fill="none"/><text x="541.00" y="344.40" text-anchor="middle" font-size="9.9">4</text><path d="M584.90,330.60 v3.4" stroke="#000" stroke-width="1.1" fill="none"/><text x="584.90" y="344.40" text-anchor="middle" font-size="9.9">16</text><path d="M629.40,330.60 v3.4" stroke="#000" stroke-width="1.1" fill="none"/><text x="629.40" y="344.40" text-anchor="middle" font-size="9.9">28</text><path d="M526.30,213.60 h-3.0" stroke="#000" stroke-width="1.15" fill="none"/><text x="522.50" y="217.15" text-anchor="end" font-size="9.9">0.14</text><path d="M526.30,264.00 h-3.0" stroke="#000" stroke-width="1.15" fill="none"/><text x="522.50" y="267.55" text-anchor="end" font-size="9.9">0.08</text><path d="M526.30,314.10 h-3.0" stroke="#000" stroke-width="1.15" fill="none"/><text x="522.50" y="317.65" text-anchor="end" font-size="9.9">0.02</text>
<text x="531.6" y="205.9" font-size="13" font-weight="bold">g</text>
<text x="583" y="266.9" font-size="11.6"><tspan font-style="italic">p</tspan> = 7.2e-04</text>
<text x="548.90" y="362.60" font-size="11.8">Ca</text><text x="564.30" y="364.60" font-size="8.2">cw</text><text x="577.50" y="362.60" font-size="11.8">(mg g</text><text x="608.00" y="356.80" font-size="8.2">−1</text><text x="617.50" y="362.60" font-size="11.8">)</text>
<path d="M146.00,305.50C148.20,304.82 155.05,303.30 159.20,301.40C163.35,299.50 167.50,296.78 170.90,294.10C174.30,291.42 177.25,287.73 179.60,285.30C181.95,282.87 182.63,282.32 185.00,279.50C187.37,276.68 191.12,272.05 193.80,268.40C196.48,264.75 198.43,261.50 201.10,257.60C203.77,253.70 206.82,248.60 209.80,245.00C212.78,241.40 215.80,238.75 219.00,236.00C222.20,233.25 225.50,230.70 229.00,228.50C232.50,226.30 236.13,224.55 240.00,222.80C243.87,221.05 247.73,219.45 252.20,218.00C256.67,216.55 261.75,215.25 266.80,214.10C271.85,212.95 279.88,211.60 282.50,211.10 L282.50,278.90 L282.50,278.90C279.88,279.08 271.85,279.45 266.80,280.00C261.75,280.55 256.58,281.35 252.20,282.20C247.82,283.05 244.40,284.05 240.50,285.10C236.60,286.15 232.70,287.28 228.80,288.50C224.90,289.72 221.23,291.02 217.10,292.40C212.97,293.78 208.78,295.50 204.00,296.80C199.22,298.10 194.65,299.07 188.40,300.20C182.15,301.33 173.23,302.55 166.50,303.60C159.77,304.65 151.08,306.02 148.00,306.50 Z" fill="#FDF0E6" stroke="none"/>
<path d="M146.00,305.50C148.20,304.82 155.05,303.30 159.20,301.40C163.35,299.50 167.50,296.78 170.90,294.10C174.30,291.42 177.25,287.73 179.60,285.30C181.95,282.87 182.63,282.32 185.00,279.50C187.37,276.68 191.12,272.05 193.80,268.40C196.48,264.75 198.43,261.50 201.10,257.60C203.77,253.70 206.82,248.60 209.80,245.00C212.78,241.40 215.80,238.75 219.00,236.00C222.20,233.25 225.50,230.70 229.00,228.50C232.50,226.30 236.13,224.55 240.00,222.80C243.87,221.05 247.73,219.45 252.20,218.00C256.67,216.55 261.75,215.25 266.80,214.10C271.85,212.95 279.88,211.60 282.50,211.10" fill="none" stroke="#F2A77C" stroke-width="0.7"/>
<path d="M282.50,278.90C279.88,279.08 271.85,279.45 266.80,280.00C261.75,280.55 256.58,281.35 252.20,282.20C247.82,283.05 244.40,284.05 240.50,285.10C236.60,286.15 232.70,287.28 228.80,288.50C224.90,289.72 221.23,291.02 217.10,292.40C212.97,293.78 208.78,295.50 204.00,296.80C199.22,298.10 194.65,299.07 188.40,300.20C182.15,301.33 173.23,302.55 166.50,303.60C159.77,304.65 151.08,306.02 148.00,306.50" fill="none" stroke="#F2A77C" stroke-width="0.7"/>
<path d="M146,306 L183,287 M146,306 L186,297" fill="none" stroke="#F4B48E" stroke-width="0.5"/>
<polygon points="17.5,319.9 76,308.6 180.4,308.4 121.3,320.1" fill="#F6E7AD" stroke="#A9C6C1" stroke-width="0.8" stroke-linejoin="round"/>
<polygon points="121.3,320.1 180.4,308.4 180.4,318.3 121.3,329.6" fill="#F4E2A0" stroke="#A9C6C1" stroke-width="0.8" stroke-linejoin="round"/>
<rect x="17.5" y="319.9" width="103.8" height="9.7" fill="#F5E4A4" stroke="#A9C6C1" stroke-width="0.8" stroke-linejoin="round"/>
<g transform="translate(78.00,277.70) rotate(12.13)"><path d="M0,-4.40 H81.83 A4.18,4.40 0 0 1 81.83,4.40 H0 A4.18,4.40 0 0 1 0,-4.40 Z" fill="#CEB69D" stroke="#8E7A4D" stroke-width="0.70"/></g>
<g transform="translate(42.00,282.70) rotate(1.73)"><path d="M0,-4.40 H76.03 A4.18,4.40 0 0 1 76.03,4.40 H0 A4.18,4.40 0 0 1 0,-4.40 Z" fill="#CEB69D" stroke="#8E7A4D" stroke-width="0.70"/></g>
<g transform="translate(30.00,289.40) rotate(12.47)"><path d="M0,-4.40 H67.60 A4.18,4.40 0 0 1 67.60,4.40 H0 A4.18,4.40 0 0 1 0,-4.40 Z" fill="#CEB69D" stroke="#8E7A4D" stroke-width="0.70"/></g>
<g transform="translate(23.80,286.30) rotate(-10.56)"><path d="M0,-4.40 H108.03 A4.18,4.40 0 0 1 108.03,4.40 H0 A4.18,4.40 0 0 1 0,-4.40 Z" fill="#CEB69D" stroke="#8E7A4D" stroke-width="0.70"/><ellipse cx="0" cy="0" rx="4.18" ry="4.40" fill="#D2BBA3" stroke="#8E7A4D" stroke-width="0.70"/></g>
<g transform="translate(40.00,284.50) rotate(-8.97)"><path d="M0,-4.40 H100.73 A4.18,4.40 0 0 1 100.73,4.40 H0 A4.18,4.40 0 0 1 0,-4.40 Z" fill="#CEB69D" stroke="#8E7A4D" stroke-width="0.70"/></g>
<g transform="translate(18.30,290.30) rotate(3.61)"><path d="M0,-4.40 H76.25 A4.18,4.40 0 0 1 76.25,4.40 H0 A4.18,4.40 0 0 1 0,-4.40 Z" fill="#CEB69D" stroke="#8E7A4D" stroke-width="0.70"/><ellipse cx="0" cy="0" rx="4.18" ry="4.40" fill="#D2BBA3" stroke="#8E7A4D" stroke-width="0.70"/></g>
<g transform="translate(31.40,307.40) rotate(-6.63)"><path d="M0,-4.40 H107.32 A4.18,4.40 0 0 1 107.32,4.40 H0 A4.18,4.40 0 0 1 0,-4.40 Z" fill="#CEB69D" stroke="#8E7A4D" stroke-width="0.70"/><ellipse cx="0" cy="0" rx="4.18" ry="4.40" fill="#D2BBA3" stroke="#8E7A4D" stroke-width="0.70"/></g>
<g transform="translate(94.40,295.10) rotate(-9.85)"><path d="M0,-4.50 H87.08 A4.27,4.50 0 0 1 87.08,4.50 H0 A4.27,4.50 0 0 1 0,-4.50 Z" fill="#CEB69D" stroke="#8E7A4D" stroke-width="0.70"/><ellipse cx="0" cy="0" rx="4.27" ry="4.50" fill="#D2BBA3" stroke="#8E7A4D" stroke-width="0.70"/><ellipse cx="87.08" cy="0" rx="4.27" ry="4.50" fill="#D2BBA3" stroke="#8E7A4D" stroke-width="0.70"/></g>
<g transform="translate(81.70,307.90) rotate(-7.11)"><path d="M0,-4.40 H51.70 A4.18,4.40 0 0 1 51.70,4.40 H0 A4.18,4.40 0 0 1 0,-4.40 Z" fill="#CEB69D" stroke="#8E7A4D" stroke-width="0.70"/><ellipse cx="0" cy="0" rx="4.18" ry="4.40" fill="#D2BBA3" stroke="#8E7A4D" stroke-width="0.70"/></g>
<g transform="translate(132.00,301.60) rotate(-8.74)"><path d="M0,-4.50 H46.74 A4.27,4.50 0 0 1 46.74,4.50 H0 A4.27,4.50 0 0 1 0,-4.50 Z" fill="#CEB69D" stroke="#8E7A4D" stroke-width="0.70"/><ellipse cx="0" cy="0" rx="4.27" ry="4.50" fill="#D2BBA3" stroke="#8E7A4D" stroke-width="0.70"/><ellipse cx="46.74" cy="0" rx="4.27" ry="4.50" fill="#D2BBA3" stroke="#8E7A4D" stroke-width="0.70"/></g>
<polygon points="17.5,260.6 76.6,249.7 180.4,249.9 121.9,260.6" fill="#F1F7F5" stroke="#A9C6C1" stroke-width="0.8" stroke-linejoin="round"/>
<polygon points="121.9,260.6 180.4,249.9 180.4,258.2 121.9,270.6" fill="#E4EFEC" stroke="#A9C6C1" stroke-width="0.8" stroke-linejoin="round"/>
<rect x="17.5" y="260.6" width="104.4" height="10" fill="#E5F0ED" stroke="#A9C6C1" stroke-width="0.8" stroke-linejoin="round"/>
<path d="M19.50,276.60C20.25,276.77 22.42,277.37 24.00,277.60C25.58,277.83 27.42,278.03 29.00,278.00C30.58,277.97 32.05,277.63 33.50,277.40C34.95,277.17 36.38,276.50 37.70,276.60C39.02,276.70 39.93,276.92 41.40,278.00C42.87,279.08 44.68,281.70 46.50,283.10C48.32,284.50 50.48,285.78 52.30,286.40C54.12,287.02 56.55,286.73 57.40,286.80" fill="none" stroke="#E8651A" stroke-width="1.80" stroke-linecap="round"/>
<path d="M61.80,284.60C61.93,283.87 61.87,281.42 62.60,280.20C63.33,278.98 64.98,278.03 66.20,277.30C67.42,276.57 69.05,276.53 69.90,275.80C70.75,275.07 70.45,273.57 71.30,272.90C72.15,272.23 74.38,271.98 75.00,271.80" fill="none" stroke="#E8651A" stroke-width="1.80" stroke-linecap="round"/>
<path d="M96.10,272.20C95.73,272.80 94.13,274.47 93.90,275.80C93.67,277.13 94.93,278.85 94.70,280.20C94.47,281.55 92.75,282.68 92.50,283.90C92.25,285.12 92.72,286.47 93.20,287.50C93.68,288.53 95.03,289.67 95.40,290.10" fill="none" stroke="#E8651A" stroke-width="1.80" stroke-linecap="round"/>
<path d="M123.60,274.80C124.57,274.98 127.45,275.48 129.40,275.90C131.35,276.32 133.60,276.65 135.30,277.30C137.00,277.95 137.67,279.43 139.60,279.80C141.53,280.17 145.68,279.55 146.90,279.50" fill="none" stroke="#E8651A" stroke-width="1.80" stroke-linecap="round"/>
<path d="M144.70,274.40C145.20,273.67 146.35,271.10 147.70,270.00C149.05,268.90 151.10,268.53 152.80,267.80C154.50,267.07 156.70,266.20 157.90,265.60C159.10,265.00 159.65,264.43 160.00,264.20" fill="none" stroke="#E8651A" stroke-width="1.80" stroke-linecap="round"/>
<path d="M138.20,297.50C138.80,297.78 140.47,299.03 141.80,299.20C143.13,299.37 144.62,298.33 146.20,298.50C147.78,298.67 149.83,300.08 151.30,300.20C152.77,300.32 154.07,299.78 155.00,299.20C155.93,298.62 156.58,297.12 156.90,296.70" fill="none" stroke="#E8651A" stroke-width="1.80" stroke-linecap="round"/>
<circle cx="45.30" cy="276.50" r="4.9" fill="#F4BE9B" stroke="#E8651A" stroke-width="1.1"/>
<text x="45.30" y="277.70" font-size="3.6" text-anchor="middle" transform="rotate(35 45.30 276.50)" style="fill:#fff;stroke:none">Ca<tspan font-size="2.4" dy="-1">2+</tspan></text>
<circle cx="144.60" cy="306.80" r="4.9" fill="#F4BE9B" stroke="#E8651A" stroke-width="1.1"/>
<text x="144.60" y="308.00" font-size="3.6" text-anchor="middle" transform="rotate(35 144.60 306.80)" style="fill:#fff;stroke:none">Ca<tspan font-size="2.4" dy="-1">2+</tspan></text>
<polygon points="30.62,288.20 27.50,290.00 24.38,288.20 24.38,284.60 27.50,282.80 30.62,284.60" fill="#1E9A6F"/>
<polygon points="37.22,291.50 34.10,293.30 30.98,291.50 30.98,287.90 34.10,286.10 37.22,287.90" fill="#1E9A6F"/>
<polygon points="34.32,296.30 31.20,298.10 28.08,296.30 28.08,292.70 31.20,290.90 34.32,292.70" fill="#1E9A6F"/>
<polygon points="28.42,300.30 25.30,302.10 22.18,300.30 22.18,296.70 25.30,294.90 28.42,296.70" fill="#1E9A6F"/>
<polygon points="40.82,299.50 37.70,301.30 34.58,299.50 34.58,295.90 37.70,294.10 40.82,295.90" fill="#1E9A6F"/>
<polygon points="156.62,267.20 153.50,269.00 150.38,267.20 150.38,263.60 153.50,261.80 156.62,263.60" fill="#1E9A6F"/>
<polygon points="161.02,271.40 157.90,273.20 154.78,271.40 154.78,267.80 157.90,266.00 161.02,267.80" fill="#1E9A6F"/>
<polygon points="164.82,274.20 161.70,276.00 158.58,274.20 158.58,270.60 161.70,268.80 164.82,270.60" fill="#1E9A6F"/>
<polygon points="156.42,277.00 153.30,278.80 150.18,277.00 150.18,273.40 153.30,271.60 156.42,273.40" fill="#1E9A6F"/>
<polygon points="168.52,278.40 165.40,280.20 162.28,278.40 162.28,274.80 165.40,273.00 168.52,274.80" fill="#1E9A6F"/>
<path d="M145.4,235.2 H126.5 L103.8,292.5" fill="none" stroke="#222" stroke-width="0.6"/>
<path d="M26,298 V335" fill="none" stroke="#8a8a8a" stroke-width="1"/>
<path d="M42.3,312.4 H71.5 L85.4,317.5 L94.9,316.1" fill="none" stroke="#8E7A4D" stroke-width="0.6"/>
<path d="M86.2,317.5 V341.1 H100" fill="none" stroke="#444" stroke-width="0.7"/>
<text x="21.8" y="205.4" font-size="13" font-weight="bold">e</text>
<text x="40.4" y="240.2" font-size="11.8">Cell wall</text>
<text x="146.40" y="240.50" font-size="11.8">Cellulose</text><text x="195.70" y="244.00" font-size="7.2" style="stroke-width:0.05px">cw</text>
<text x="10.90" y="344.60" font-size="11.8">Lignin</text><text x="43.20" y="348.10" font-size="7.2" style="stroke-width:0.05px">cw</text>
<text x="101.40" y="344.60" font-size="11.8">hemiCellulose</text><text x="177.40" y="348.10" font-size="7.2" style="stroke-width:0.05px">cw</text>
<text x="222.6" y="314.1" font-size="11.8">Pectin-Ca</text>
<text x="186.00" y="294.60" font-size="10.6" style="fill:#E8651A;stroke:#E8651A;stroke-width:0.12px">Ca</text><text x="200.00" y="290.00" font-size="6.6" style="fill:#E8651A;stroke:#E8651A;stroke-width:0.12px">2+</text>
<path d="M212.70,258.90 L222.60,264.60 M214.30,256.60 L224.00,262.30 M222.70,264.40 L236.40,257.40 M222.70,264.40 L222.70,276.40 M236.40,257.40 L236.40,246.40 M236.40,257.40 L250.30,264.70 M250.30,264.70 L264.60,257.40 M264.60,257.40 L264.60,246.40 M264.60,257.60 L273.30,262.90 M265.90,255.30 L274.60,260.60" fill="none" stroke="#E8651A" stroke-width="1" stroke-linecap="round"/>
<text x="207.80" y="257.00" font-size="10.8" style="fill:#E8651A;stroke:#E8651A;stroke-width:0.12px">O</text><text x="228.90" y="243.20" font-size="10.8" style="fill:#E8651A;stroke:#E8651A;stroke-width:0.12px">OH</text><text x="261.30" y="243.20" font-size="10.8" style="fill:#E8651A;stroke:#E8651A;stroke-width:0.12px">O</text><text x="269.30" y="238.60" font-size="7.5" style="fill:#E8651A;stroke:#E8651A;stroke-width:0.12px">-</text><text x="219.00" y="285.10" font-size="10.8" style="fill:#E8651A;stroke:#E8651A;stroke-width:0.12px">O</text><text x="227.20" y="280.60" font-size="7.5" style="fill:#E8651A;stroke:#E8651A;stroke-width:0.12px">-</text><text x="270.80" y="273.00" font-size="10.8" style="fill:#E8651A;stroke:#E8651A;stroke-width:0.12px">O</text>
</svg>
</body></html>
